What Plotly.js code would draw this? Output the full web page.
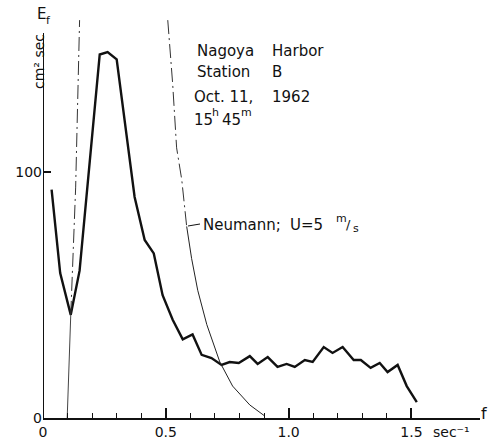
<!DOCTYPE html>
<html>
<head>
<meta charset="utf-8">
<script src="https://cdn.plot.ly/plotly-3.0.1.min.js"></script>
<style>html,body{margin:0;padding:0;background:#fff;}#chart{width:492px;height:440px;}</style>
</head>
<body>
<div id="chart"></div>
<script>
// Measured spectrum (Nagoya Harbor, Station B)
const freq = [0.035,0.070,0.113,0.149,0.231,0.263,0.300,0.373,0.414,0.451,0.487,0.528,0.569,0.609,0.646,0.686,0.727,0.760,0.797,0.842,0.874,0.915,0.955,0.992,1.025,1.066,1.098,1.143,1.179,1.220,1.265,1.294,1.334,1.371,1.403,1.444,1.481,1.522];
const energy = [93,59,42,60,148,149,146,90,72.5,67,50,40,32,34,25.7,24.4,21.6,22.8,22.4,25.2,22,24.8,20.8,22,20.8,23.6,22.8,28.9,26.5,28.9,23.6,23.6,20.4,22.4,18.7,21.6,13,6.5];

// Neumann spectrum, U = 5 m/s
const neuLeftF = [0.0985,0.113,0.133,0.149];
const neuLeftE = [0,42,94,162];
const neuRightF = [0.508,0.528,0.544,0.565,0.585,0.605,0.630,0.667,0.720,0.772,0.842,0.903];
const neuRightE = [162,136,110,97,78,65,52,38,22.8,13,5.3,0.8];

const xTickVals = [0,0.5,1.0,1.5];
const xTickText = ['0','0.5','1.0','1.5'];
const xMinorVals = [0.1,0.2,0.3,0.4,0.6,0.7,0.8,0.9,1.1,1.2,1.3,1.4];
const yTickVals = [0,100];
const yTickText = ['0','100'];

// layout geometry (pixels)
const L = 43, R = 12, T = 20, B = 22, W = 492, H = 440;
const PW = W - L - R, PH = H - T - B;
const PXU = 245.6, PYU = 2.456;
const fx = p => (p - L) / PXU;
const ey = p => (H - B - p) / PYU;
const px2paper = p => (p - L) / PW;
const py2paper = p => (H - B - p) / PH;

const FONT = 'DejaVu Sans';
const ink = '#111';

const neuDash = '14px,4px,2px,4px';
const traces = [
  {x: freq, y: energy, mode: 'lines', line: {color: ink, width: 2.4}, hoverinfo: 'skip'},
  {x: neuLeftF.slice(1), y: neuLeftE.slice(1), mode: 'lines', line: {color: '#333', width: 1, dash: neuDash}, hoverinfo: 'skip'},
  {x: neuLeftF.slice(0,2), y: neuLeftE.slice(0,2), mode: 'lines', line: {color: '#444', width: 1}, hoverinfo: 'skip'},
  {x: neuRightF.slice(0,5), y: neuRightE.slice(0,5), mode: 'lines', line: {color: '#333', width: 1, dash: neuDash}, hoverinfo: 'skip'},
  {x: neuRightF.slice(4), y: neuRightE.slice(4), mode: 'lines', line: {color: '#222', width: 1}, hoverinfo: 'skip'}
];

function txt(text, px, py, anchor, size, extra) {
  return Object.assign({
    text: text, x: px2paper(px), y: py2paper(py), xref: 'paper', yref: 'paper',
    xanchor: anchor, yanchor: 'middle', showarrow: false,
    font: {family: FONT, size: size, color: ink}
  }, extra || {});
}

const annotations = [
  txt('E', 41, 14, 'center', 15),
  txt('f', 48, 20, 'center', 11),
  txt('cm\u00B2 sec', 39, 62, 'center', 14, {textangle: -90}),
  txt('Nagoya', 195, 51, 'left', 15),
  txt('Harbor', 270, 51, 'left', 15),
  txt('Station', 195, 72, 'left', 15),
  txt('B', 270, 72, 'left', 15),
  txt('Oct. 11,', 192, 97, 'left', 15),
  txt('1962', 270, 97, 'left', 15),
  txt('15', 192, 120, 'left', 15),
  txt('h', 210, 112, 'left', 11),
  txt('45', 220, 120, 'left', 15),
  txt('m', 239, 112, 'left', 11),
  txt('Neumann;', 201, 225, 'left', 15),
  txt('U=5', 288, 225, 'left', 15),
  txt('m', 334, 218, 'left', 11),
  txt('/', 344, 224, 'left', 13),
  txt('s', 351, 228, 'left', 11),
  txt('f', 484, 413, 'center', 16),
  txt('sec\u207B\u00B9', 431, 432, 'left', 14)
];

const shapes = [
  {type: 'line', xref: 'x', yref: 'y', x0: 0, y0: 0, x1: 0, y1: ey(33), line: {color: ink, width: 2}},
  {type: 'line', xref: 'x', yref: 'y', x0: fx(188), y0: ey(226), x1: fx(200), y1: ey(224), line: {color: ink, width: 1}}
];

const layout = {
  width: W, height: H,
  margin: {l: L, r: R, t: T, b: B, pad: 0},
  paper_bgcolor: '#fff', plot_bgcolor: '#fff',
  showlegend: false,
  xaxis: {
    range: [0, PW / PXU], showgrid: false, zeroline: false,
    showline: true, linecolor: ink, linewidth: 2,
    tickmode: 'array', tickvals: xTickVals, ticktext: xTickText,
    ticks: 'inside', ticklen: 10, tickwidth: 1.5, tickcolor: ink,
    tickfont: {family: FONT, size: 14, color: ink},
    minor: {tickmode: 'array', tickvals: xMinorVals, ticks: 'inside', ticklen: 5, tickwidth: 1.2, tickcolor: ink, showgrid: false},
    fixedrange: true
  },
  yaxis: {
    range: [0, PH / PYU], showgrid: false, zeroline: false,
    showline: false,
    tickmode: 'array', tickvals: yTickVals, ticktext: yTickText,
    ticks: 'inside', ticklen: 8, tickwidth: 1.5, tickcolor: ink,
    tickfont: {family: FONT, size: 14, color: ink},
    fixedrange: true
  },
  annotations: annotations,
  shapes: shapes
};

Plotly.newPlot('chart', traces, layout, {displayModeBar: false});
</script>
</body>
</html>
